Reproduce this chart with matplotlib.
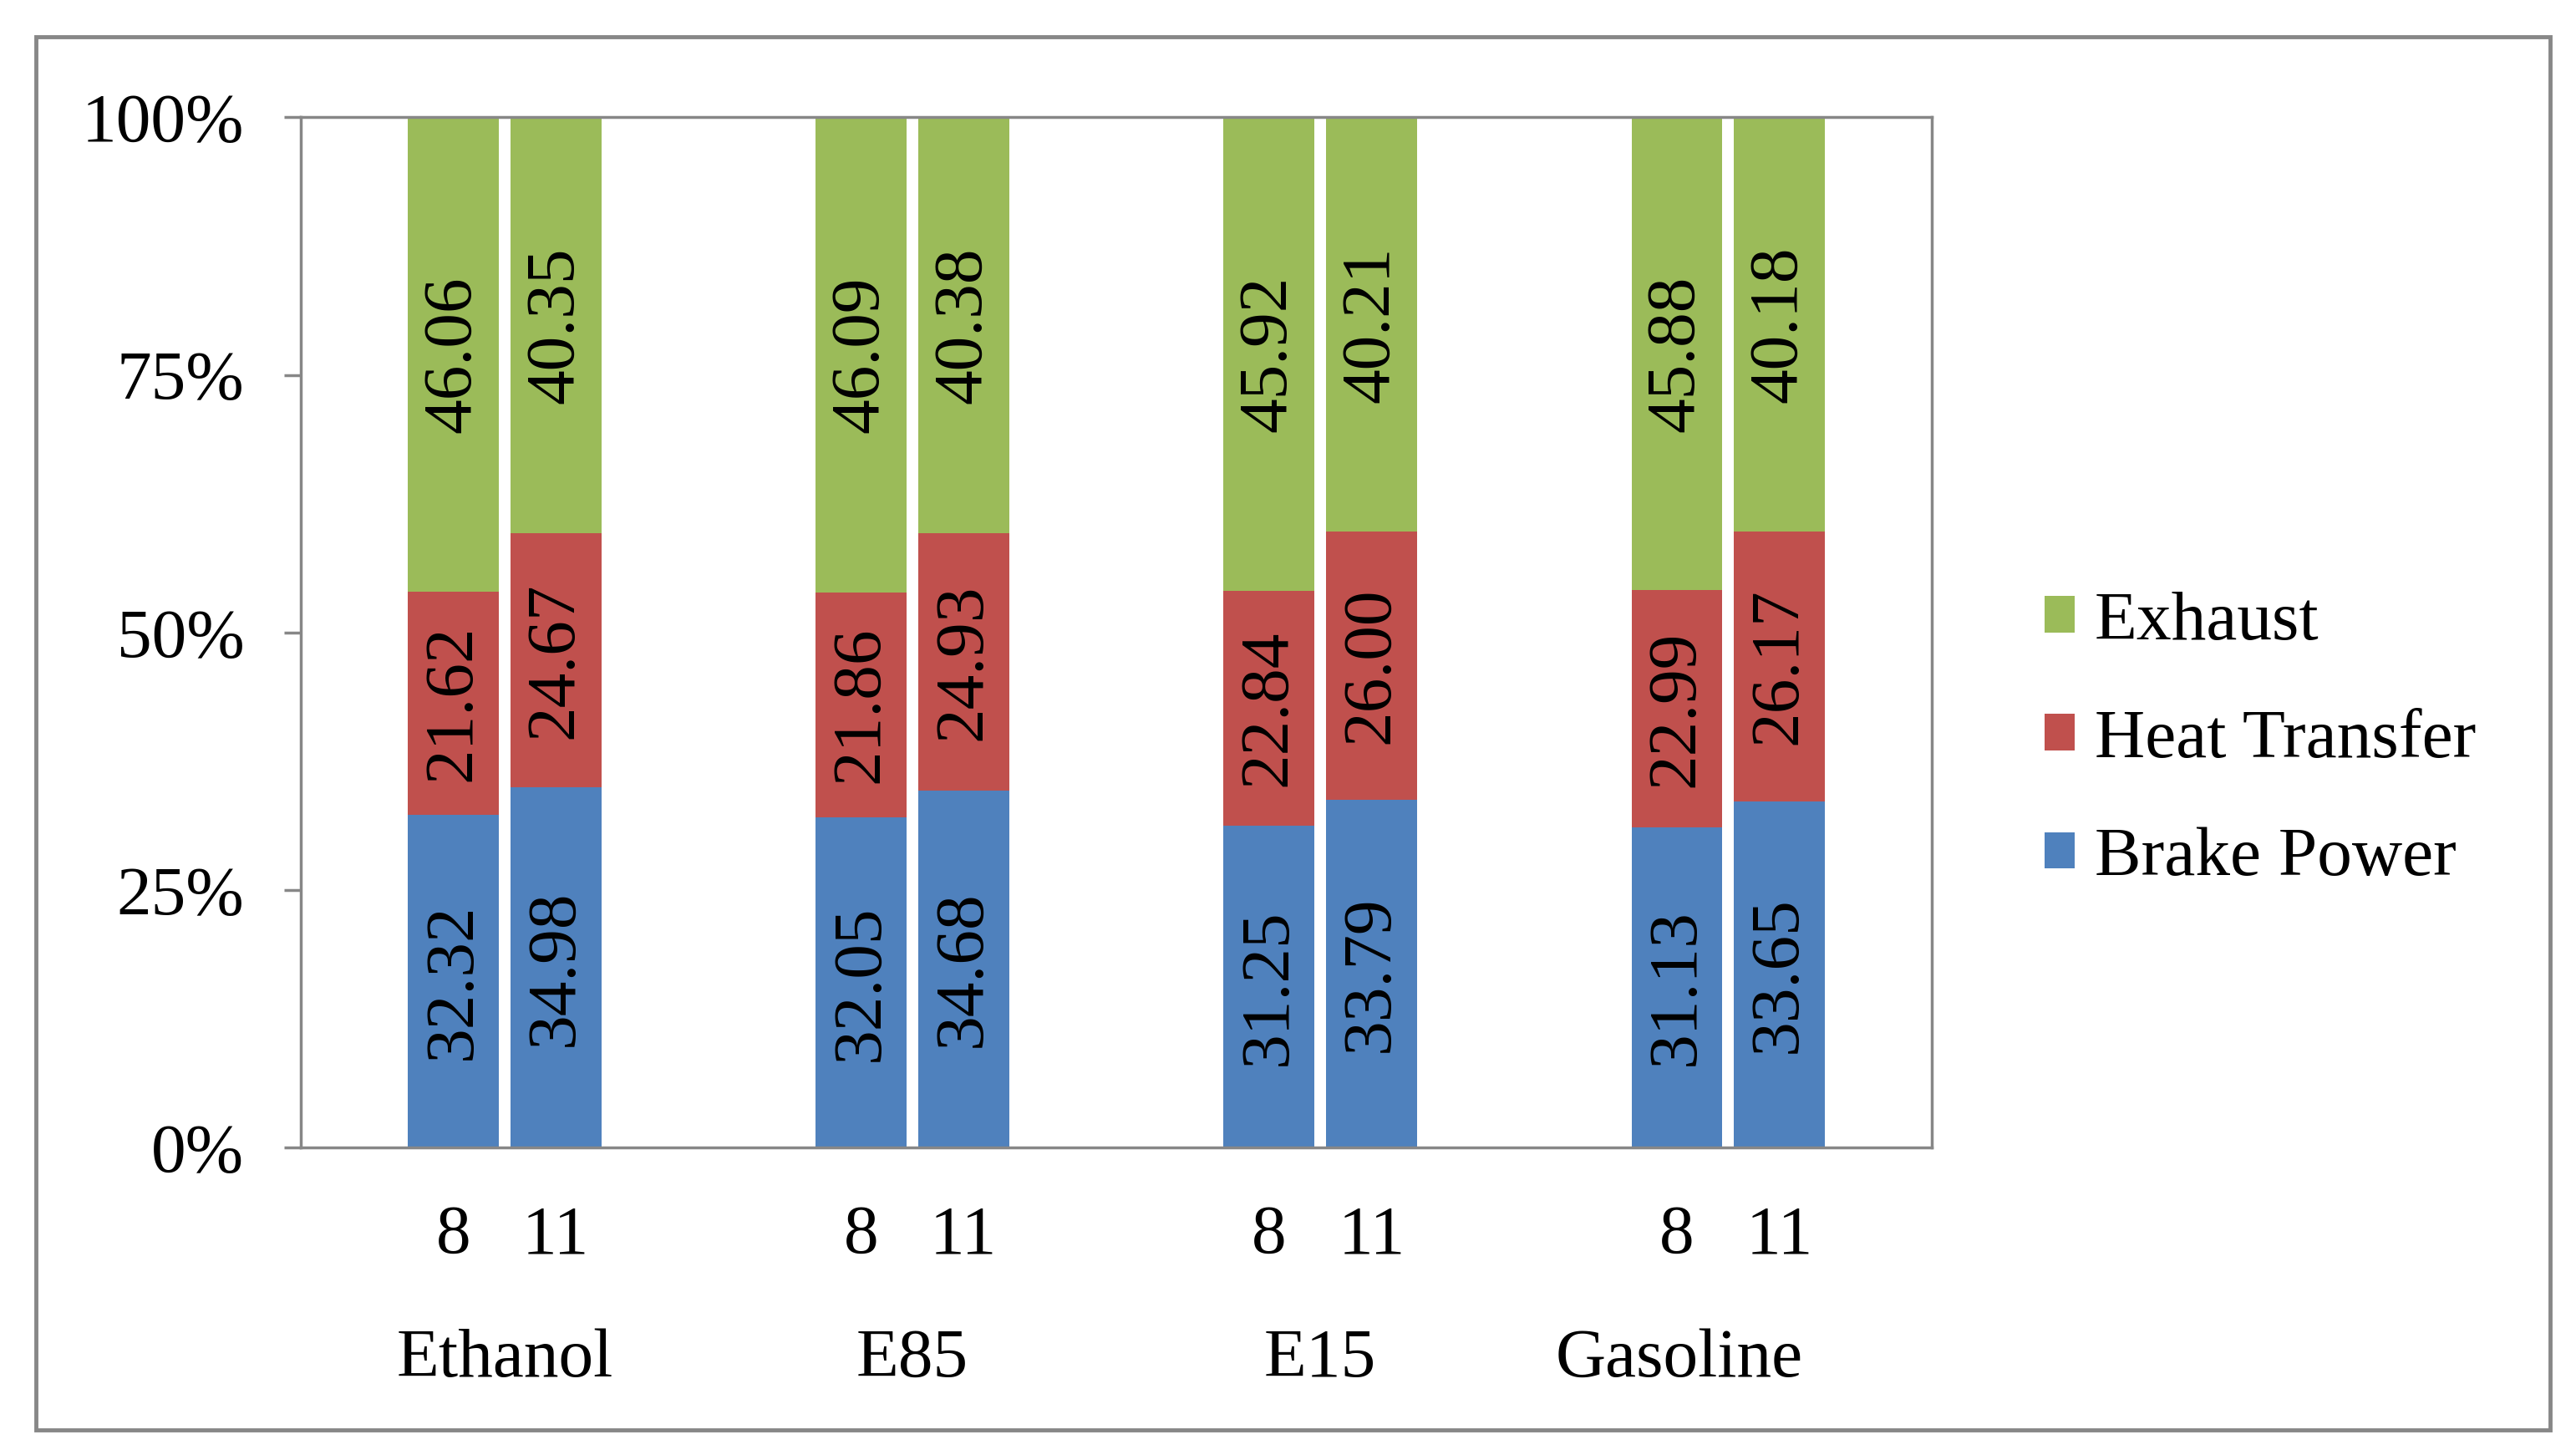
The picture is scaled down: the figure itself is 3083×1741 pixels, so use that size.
import matplotlib
matplotlib.use("Agg")
import matplotlib.pyplot as plt
import numpy as np
from matplotlib.patches import Rectangle

fuels = ["Ethanol", "E85", "E15", "Gasoline"]
ratios = ["8", "11"]
brake_power = [32.32, 34.98, 32.05, 34.68, 31.25, 33.79, 31.13, 33.65]
heat_transfer = [21.62, 24.67, 21.86, 24.93, 22.84, 26.00, 22.99, 26.17]
exhaust = [46.06, 40.35, 46.09, 40.38, 45.92, 40.21, 45.88, 40.18]
ytick_labels = ["0%", "25%", "50%", "75%", "100%"]

c_green = "#9BBB59"
c_red = "#C0504D"
c_blue = "#4F81BD"
gray = "#878787"

plt.rcParams['font.family'] = ['Liberation Serif', 'DejaVu Serif']
FS = 60

fig = plt.figure(figsize=(30.83, 17.41), dpi=100)
fig.patches.append(Rectangle((0.0141, 0.017), 0.990 - 0.0141, 0.975 - 0.017,
                             transform=fig.transFigure, fill=False,
                             edgecolor=gray, linewidth=3.5, zorder=0))

ax = fig.add_axes([0.1167, 0.2111, 0.75 - 0.1167, 0.9194 - 0.2111])

n = len(fuels)
offs = 0.1255
bw = 0.223
xpos = []
for i in range(n):
    xpos += [i - offs, i + offs]
xpos = np.array(xpos)

bp = np.array(brake_power)
ht = np.array(heat_transfer)
ex = np.array(exhaust)
tot = bp + ht + ex
bpn = bp / tot * 100
htn = ht / tot * 100
exn = ex / tot * 100

b1 = ax.bar(xpos, bpn, width=bw, color=c_blue, label="Brake Power", zorder=2)
b2 = ax.bar(xpos, htn, width=bw, bottom=bpn, color=c_red, label="Heat Transfer", zorder=2)
b3 = ax.bar(xpos, exn, width=bw, bottom=bpn + htn, color=c_green, label="Exhaust", zorder=2)

for j, x in enumerate(xpos):
    ax.text(x, bpn[j] / 2, f"{bp[j]:.2f}", rotation=90, ha='center', va='center', fontsize=FS, zorder=3)
    ax.text(x, bpn[j] + htn[j] / 2, f"{ht[j]:.2f}", rotation=90, ha='center', va='center', fontsize=FS, zorder=3)
    ax.text(x, bpn[j] + htn[j] + exn[j] / 2, f"{ex[j]:.2f}", rotation=90, ha='center', va='center', fontsize=FS, zorder=3)

ax.set_xlim(-0.5, n - 0.5)
ax.set_ylim(0, 100)
ax.set_yticks([0, 25, 50, 75, 100])
ax.set_yticklabels(ytick_labels, fontsize=FS)
ax.tick_params(axis='y', length=14.5, width=2.5, color=gray, pad=34)
ax.set_xticks([])
for s in ax.spines.values():
    s.set_color(gray)
    s.set_linewidth(2.5)

trans = ax.get_xaxis_transform()
for j, x in enumerate(xpos):
    ax.text(x, -0.102, ratios[j % 2], ha='center', va='baseline', fontsize=FS, transform=trans, clip_on=False)
label_shift = [0.0, 0.0, 0.0, -0.12]
for i, f in enumerate(fuels):
    ax.text(i + label_shift[i], -0.222, f, ha='center', va='baseline', fontsize=FS, transform=trans, clip_on=False)

fig.legend(handles=[b3, b2, b1], labels=["Exhaust", "Heat Transfer", "Brake Power"],
           loc='center left', bbox_to_anchor=(0.7936, 0.491), frameon=False,
           fontsize=FS, handlelength=0.43, handleheight=0.43, handletextpad=0.29,
           labelspacing=0.79, borderpad=0, borderaxespad=0)

fig.savefig("out.png", dpi=100)
